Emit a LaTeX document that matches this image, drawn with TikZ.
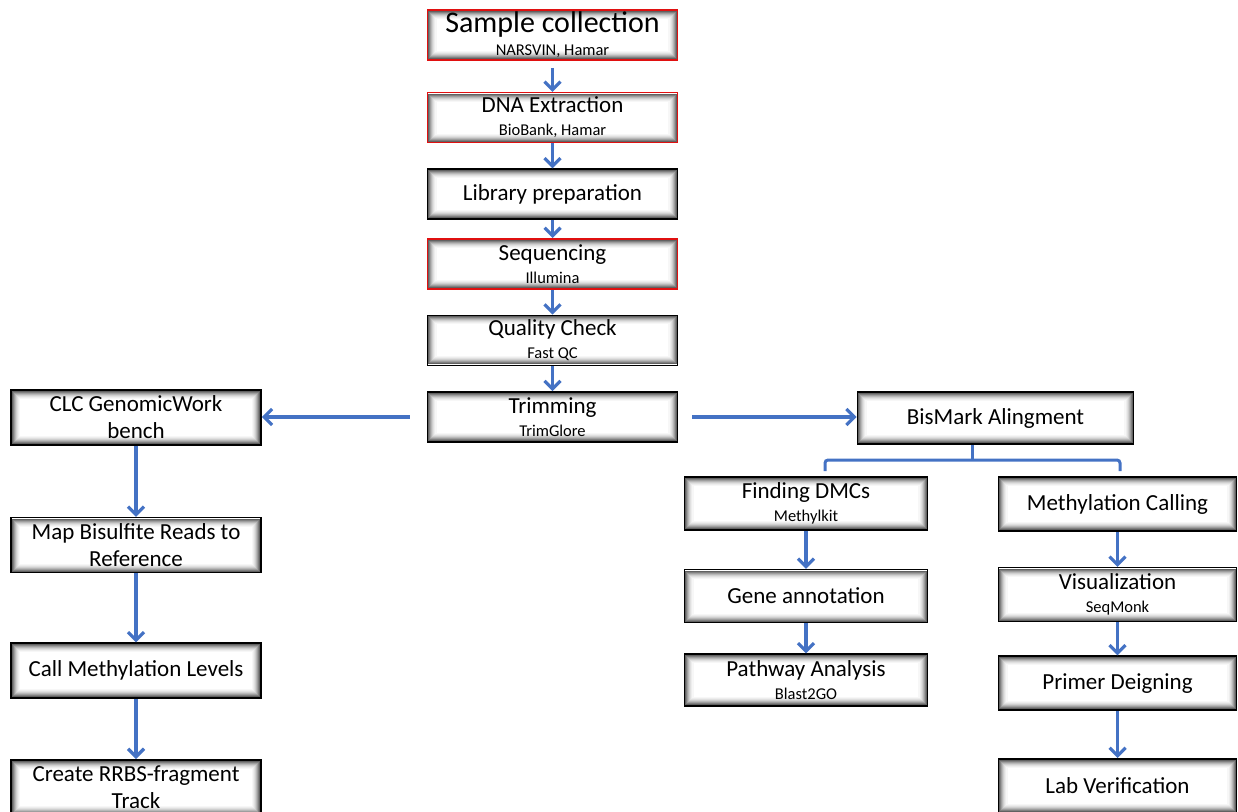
\documentclass[tikz,border=0pt]{standalone}
\usepackage{fontspec}
\setmainfont{Carlito}
\usepackage{tikz}
\usetikzlibrary{positioning,arrows.meta}
\definecolor{flowblue}{RGB}{68,114,196}
\definecolor{boxred}{RGB}{224,16,16}
\newcommand{\mainsize}{\fontsize{23}{27}\selectfont}
\newcommand{\subsize}{\fontsize{16.5}{19}\selectfont}
\newcommand{\titlesize}{\fontsize{30}{34}\selectfont}
\newcommand{\subline}[1]{\\[-4pt]{\subsize #1}}
\tikzstyle{inshadow}=[path picture={
	\foreach \i/\c in {1.5/62,2.5/50,3.5/38,4.5/28,5.5/19,6.5/12,7.5/7,8.5/3}{
		\draw[black!\c, line width=1.05pt]
			([xshift=\i pt,yshift=\i pt]path picture bounding box.south west) rectangle
			([xshift=-\i pt,yshift=-\i pt]path picture bounding box.north east);
	}}]
\tikzstyle{process}=[rectangle, draw=black, line width=1.6pt, fill=white, inshadow,
        align=center, font=\mainsize, inner sep=2pt]
\tikzstyle{mainstep}=[process, minimum width=250pt, minimum height=50pt]
\tikzstyle{sidestep}=[process, minimum width=250pt, minimum height=55pt]
\tikzstyle{dmcstep}=[process, minimum width=243pt, minimum height=53pt]
\tikzstyle{callstep}=[process, minimum width=238pt, minimum height=54pt]
\tikzstyle{myarrow}=[-{Straight Barb[length=8pt,width=16pt]}, line width=3.2pt, draw=flowblue]
\tikzstyle{mybracket}=[line width=3pt, draw=flowblue, rounded corners=3pt]

\begin{document}
\begin{tikzpicture}[x=1pt, y=-1pt]
	\useasboundingbox (0,0) rectangle (1238,811);
	\clip (0,0) rectangle (1238,811);

	\node (SampleCollection) [mainstep, draw=boxred] at (552.5,35)
        {{\titlesize Sample collection}\subline{NARSVIN, Hamar}};
	\node (DNAExtraction) [mainstep, draw=boxred, below=31pt of SampleCollection]
        {DNA Extraction\subline{BioBank, Hamar}};
	\node (LibraryPrep) [mainstep, below=25pt of DNAExtraction] {Library preparation};
	\node (Sequencing) [mainstep, draw=boxred, below=18pt of LibraryPrep]
        {Sequencing\subline{Illumina}};
	\node (QualityCheck) [mainstep, below=25pt of Sequencing] {Quality Check\subline{Fast QC}};
	\node (Trimming) [mainstep, below=25pt of QualityCheck] {Trimming\subline{TrimGlore}};

	\node (CLCWorkbench) [sidestep] at (136,417.5) {CLC GenomicWork\\bench};
	\node (MapReads) [sidestep, below=71pt of CLCWorkbench] {Map Bisulfite Reads to\\Reference};
	\node (CallLevels) [sidestep, below=69pt of MapReads] {Call Methylation Levels};
	\node (RRBSTrack) [sidestep, below=60pt of CallLevels] {Create RRBS-fragment\\Track};

	\node (BisMark) [mainstep, minimum width=276pt, minimum height=52pt] at (995.5,418)
        {BisMark Alingment};

	\node (FindingDMCs) [dmcstep] at (806,503.5) {Finding DMCs\subline{Methylkit}};
	\node (GeneAnnotation) [dmcstep, below=38pt of FindingDMCs] {Gene annotation};
	\node (PathwayAnalysis) [dmcstep, minimum height=52pt, below=30pt of GeneAnnotation]
        {Pathway Analysis\subline{Blast2GO}};

	\node (MethylCalling) [callstep] at (1117.5,504) {Methylation Calling};
	\node (Visualization) [callstep, below=35pt of MethylCalling] {Visualization\subline{SeqMonk}};
	\node (PrimerDesign) [callstep, below=33pt of Visualization] {Primer Deigning};
	\node (LabVerification) [callstep, below=47pt of PrimerDesign] {Lab Verification};

	\coordinate (BrkTop) at ([xshift=-23.5pt]BisMark.south);
	\coordinate (BrkMid) at (972,460);
	\coordinate (BrkLeft) at (825,471);
	\coordinate (BrkRight) at (1120,471);

\draw[myarrow, shorten <=7pt] (SampleCollection.south) -- (DNAExtraction.north);
\draw[myarrow] (DNAExtraction.south) -- (LibraryPrep.north);
\draw[myarrow] (LibraryPrep.south) -- (Sequencing.north);
\draw[myarrow] (Sequencing.south) -- (QualityCheck.north);
\draw[myarrow] (QualityCheck.south) -- (Trimming.north);

\draw[myarrow, shorten <=17pt] (Trimming.west) -- (Trimming.west -| CLCWorkbench.east);
\draw[myarrow, shorten <=14pt] (Trimming.east) -- (Trimming.east -| BisMark.west);

\draw[myarrow] (CLCWorkbench.south) -- (MapReads.north);
\draw[myarrow] (MapReads.south) -- (CallLevels.north);
\draw[myarrow] (CallLevels.south) -- (RRBSTrack.north);

\draw[mybracket] (BrkTop) -- (BrkMid);
\draw[mybracket] (BrkLeft) |- (BrkMid) -| (BrkRight);

\draw[myarrow] (FindingDMCs.south) -- (GeneAnnotation.north);
\draw[myarrow] (GeneAnnotation.south) -- (PathwayAnalysis.north);
\draw[myarrow] (MethylCalling.south) -- (Visualization.north);
\draw[myarrow] (Visualization.south) -- (PrimerDesign.north);
\draw[myarrow] (PrimerDesign.south) -- (LabVerification.north);

\end{tikzpicture}
\end{document}
